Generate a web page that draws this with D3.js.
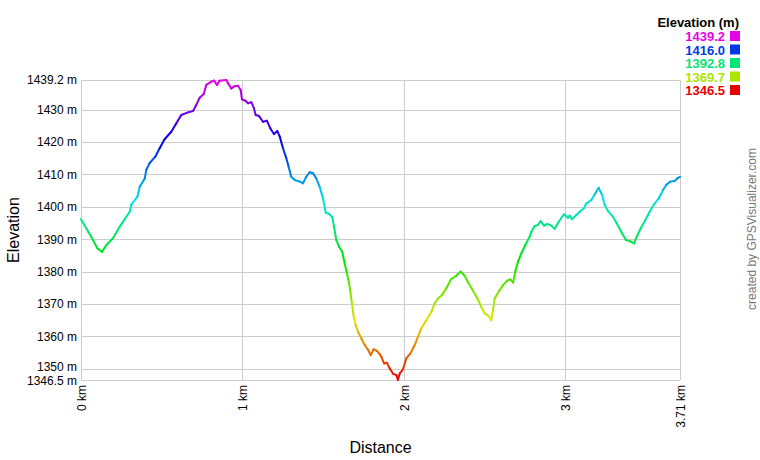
<!DOCTYPE html>
<html>
<head>
<meta charset="utf-8">
<script src="https://cdn.jsdelivr.net/npm/d3@7"></script>
<style>
  body { margin: 0; background: #fff; }
  text { font-family: Arial, "Liberation Sans", sans-serif; }
</style>
</head>
<body>
<svg id="chart" width="760" height="460"></svg>
<script>
// Track profile: distance (km) and elevation (m)
const distKm = [0, 0.043, 0.074, 0.101, 0.130, 0.157, 0.198, 0.240, 0.271, 0.302,
  0.312, 0.349, 0.364, 0.395, 0.404, 0.425, 0.460, 0.487, 0.518, 0.559,
  0.590, 0.621, 0.663, 0.694, 0.714, 0.735, 0.760, 0.776, 0.807, 0.824,
  0.842, 0.859, 0.900, 0.910, 0.931, 0.952, 0.972, 0.989, 0.997, 1.018,
  1.034, 1.055, 1.071, 1.082, 1.102, 1.127, 1.152, 1.172, 1.195, 1.216,
  1.231, 1.251, 1.272, 1.286, 1.302, 1.324, 1.355, 1.375, 1.395, 1.416,
  1.437, 1.457, 1.478, 1.499, 1.516, 1.536, 1.556, 1.567, 1.581, 1.598,
  1.618, 1.633, 1.647, 1.660, 1.670, 1.678, 1.689, 1.701, 1.716, 1.736,
  1.757, 1.778, 1.794, 1.813, 1.833, 1.850, 1.860, 1.877, 1.895, 1.912,
  1.932, 1.953, 1.963, 1.974, 1.994, 2.015, 2.040, 2.067, 2.087, 2.108,
  2.139, 2.170, 2.191, 2.211, 2.236, 2.262, 2.293, 2.324, 2.352, 2.376,
  2.401, 2.428, 2.455, 2.479, 2.500, 2.525, 2.541, 2.552, 2.562, 2.587,
  2.614, 2.640, 2.659, 2.676, 2.690, 2.707, 2.727, 2.752, 2.779, 2.789,
  2.810, 2.830, 2.847, 2.868, 2.888, 2.913, 2.934, 2.959, 2.991, 3.016,
  3.027, 3.041, 3.068, 3.089, 3.115, 3.130, 3.161, 3.182, 3.206, 3.227,
  3.244, 3.264, 3.295, 3.315, 3.346, 3.374, 3.398, 3.425, 3.445, 3.470,
  3.495, 3.522, 3.549, 3.578, 3.605, 3.625, 3.650, 3.677, 3.693, 3.71];
const elevM = [1396.2, 1392.5, 1389.8, 1387.2, 1386.1, 1388.2, 1390.3, 1393.9, 1396.2, 1398.5,
  1400.8, 1403.1, 1406.2, 1408.8, 1411.4, 1413.5, 1415.5, 1418.1, 1420.9, 1423.2,
  1425.8, 1428.4, 1429.2, 1429.6, 1431.5, 1433.7, 1434.9, 1437.7, 1438.7, 1439.0,
  1437.7, 1439.0, 1439.2, 1438.2, 1436.6, 1437.3, 1437.4, 1436.1, 1433.2, 1432.8,
  1432.0, 1432.3, 1430.5, 1428.4, 1428.1, 1426.3, 1426.6, 1424.3, 1422.5, 1423.4,
  1421.7, 1418.1, 1415.0, 1412.4, 1409.3, 1408.3, 1407.8, 1407.3, 1409.3, 1410.7,
  1410.4, 1408.8, 1406.2, 1402.6, 1398.2, 1397.8, 1396.9, 1393.9, 1389.8, 1387.7,
  1386.1, 1382.6, 1379.5, 1376.4, 1373.3, 1370.2, 1366.1, 1363.5, 1361.4, 1359.4,
  1357.3, 1355.8, 1354.2, 1356.0, 1355.5, 1354.5, 1353.7, 1351.6, 1351.8, 1350.1,
  1348.5, 1348.0, 1346.5, 1348.5, 1349.8, 1353.2, 1354.7, 1357.3, 1359.9, 1362.5,
  1365.0, 1367.6, 1370.2, 1371.7, 1372.8, 1374.8, 1377.7, 1378.7, 1380.0, 1378.7,
  1376.4, 1374.1, 1371.7, 1369.1, 1367.1, 1366.3, 1365.0, 1368.1, 1371.7, 1373.8,
  1375.8, 1377.2, 1377.6, 1376.6, 1380.0, 1383.1, 1385.6, 1388.2, 1390.8, 1392.3,
  1394.1, 1394.4, 1395.6, 1394.2, 1394.7, 1394.2, 1393.2, 1395.4, 1397.7, 1396.6,
  1397.3, 1396.2, 1397.5, 1398.5, 1399.6, 1401.1, 1402.1, 1403.9, 1405.9, 1403.7,
  1400.6, 1398.7, 1396.9, 1395.2, 1392.3, 1389.8, 1389.4, 1388.7, 1391.1, 1393.7,
  1395.9, 1398.5, 1400.8, 1402.6, 1405.2, 1406.8, 1407.8, 1408.0, 1408.8, 1409.3];

const yTicks = [1346.5, 1350, 1360, 1370, 1380, 1390, 1400, 1410, 1420, 1430, 1439.2];
const yTickLabels = ["1346.5 m", "1350 m", "1360 m", "1370 m", "1380 m", "1390 m",
  "1400 m", "1410 m", "1420 m", "1430 m", "1439.2 m"];
const xTicks = [0, 1, 2, 3, 3.71];
const xTickLabels = ["0 km", "1 km", "2 km", "3 km", "3.71 km"];
const legendValues = [1439.2, 1416.0, 1392.8, 1369.7, 1346.5];
const legendLabels = ["1439.2", "1416.0", "1392.8", "1369.7", "1346.5"];

const width = 760, height = 460;
const margin = { left: 81, right: 80, top: 80, bottom: 80 };
const drawWidth = width - margin.left - margin.right;
const drawHeight = height - margin.top - margin.bottom;

const svg = d3.select("#chart");
const g = svg.append("g").attr("transform", `translate(${margin.left},${margin.top})`);

const xScale = d3.scaleLinear().domain([0, 3.71]).range([0, drawWidth]);
const yScale = d3.scaleLinear().domain([1346.5, 1439.2]).range([drawHeight, 0]);

// elevation -> rainbow, red at the bottom to magenta at the top
const hueScale = d3.scaleLinear().domain([1346.5, 1439.2]).range([0, 300]);
const color = (e) => d3.hsl(hueScale(e), 1, 0.45).formatHex();

// grid
g.append("g").selectAll("line").data(yTicks).join("line")
  .attr("x1", 0).attr("x2", drawWidth)
  .attr("y1", d => Math.round(yScale(d)) + 0.5).attr("y2", d => Math.round(yScale(d)) + 0.5)
  .attr("stroke", "#cccccc");
g.append("g").selectAll("line").data(xTicks).join("line")
  .attr("x1", d => Math.round(xScale(d)) + 0.5).attr("x2", d => Math.round(xScale(d)) + 0.5)
  .attr("y1", 0).attr("y2", drawHeight)
  .attr("stroke", "#cccccc");

// axes (labels only, gridlines above do the lines)
const yAxis = d3.axisLeft(yScale).tickValues(yTicks).tickSize(0).tickPadding(4)
  .tickFormat((d, i) => yTickLabels[i]);
g.append("g").call(yAxis)
  .call(a => a.select(".domain").remove())
  .selectAll("text").attr("font-size", 12).attr("fill", "#000")
  .style("font-family", "Arial, 'Liberation Sans', sans-serif")
  // the two lowest labels sit close together, push them apart a little
  .attr("dy", (d, i) => i === 0 ? "0.4em" : i === 1 ? "0.18em" : "0.32em");

const xAxis = d3.axisBottom(xScale).tickValues(xTicks).tickSize(0)
  .tickFormat((d, i) => xTickLabels[i]);
g.append("g").attr("transform", `translate(0,${drawHeight})`).call(xAxis)
  .call(a => a.select(".domain").remove())
  .selectAll("text")
  .attr("font-size", 12).attr("fill", "#000")
  .style("font-family", "Arial, 'Liberation Sans', sans-serif")
  .attr("transform", "rotate(-90)")
  .attr("text-anchor", "end")
  .attr("x", -5).attr("y", 0).attr("dy", "0.35em");

// coloured profile, one short segment per pair of points
const pts = distKm.map((d, i) => ({ x: d, y: elevM[i] }));
g.append("g").selectAll("line").data(pts.slice(1)).join("line")
  .attr("x1", (d, i) => xScale(pts[i].x)).attr("y1", (d, i) => yScale(pts[i].y))
  .attr("x2", d => xScale(d.x)).attr("y2", d => yScale(d.y))
  .attr("stroke", (d, i) => color((d.y + pts[i].y) / 2))
  .attr("stroke-width", 2)
  .attr("stroke-linecap", "round");

// axis titles
svg.append("text").attr("x", margin.left + drawWidth / 2).attr("y", 453)
  .attr("text-anchor", "middle").attr("font-size", 16).text("Distance");
svg.append("text")
  .attr("transform", `translate(19,${margin.top + drawHeight / 2}) rotate(-90)`)
  .attr("text-anchor", "middle").attr("font-size", 16).text("Elevation");

// legend
const legend = svg.append("g");
legend.append("text").attr("x", 739).attr("y", 27).attr("text-anchor", "end")
  .attr("font-size", 13).attr("font-weight", "bold").text("Elevation (m)");
const rows = legend.selectAll("g.row").data(legendValues).join("g")
  .attr("class", "row")
  .attr("transform", (d, i) => `translate(0,${31 + i * 13.5})`);
rows.append("rect").attr("x", 730).attr("y", 0).attr("width", 10).attr("height", 10)
  .attr("fill", d => color(d));
rows.append("text").attr("x", 725).attr("y", 10).attr("text-anchor", "end")
  .attr("font-size", 13).attr("font-weight", "bold")
  .attr("fill", d => color(d)).text((d, i) => legendLabels[i]);

// credit
svg.append("text")
  .attr("transform", "translate(756,229) rotate(-90)")
  .attr("text-anchor", "middle").attr("font-size", 12).attr("fill", "#777")
  .text("created by GPSVisualizer.com");
</script>
</body>
</html>
